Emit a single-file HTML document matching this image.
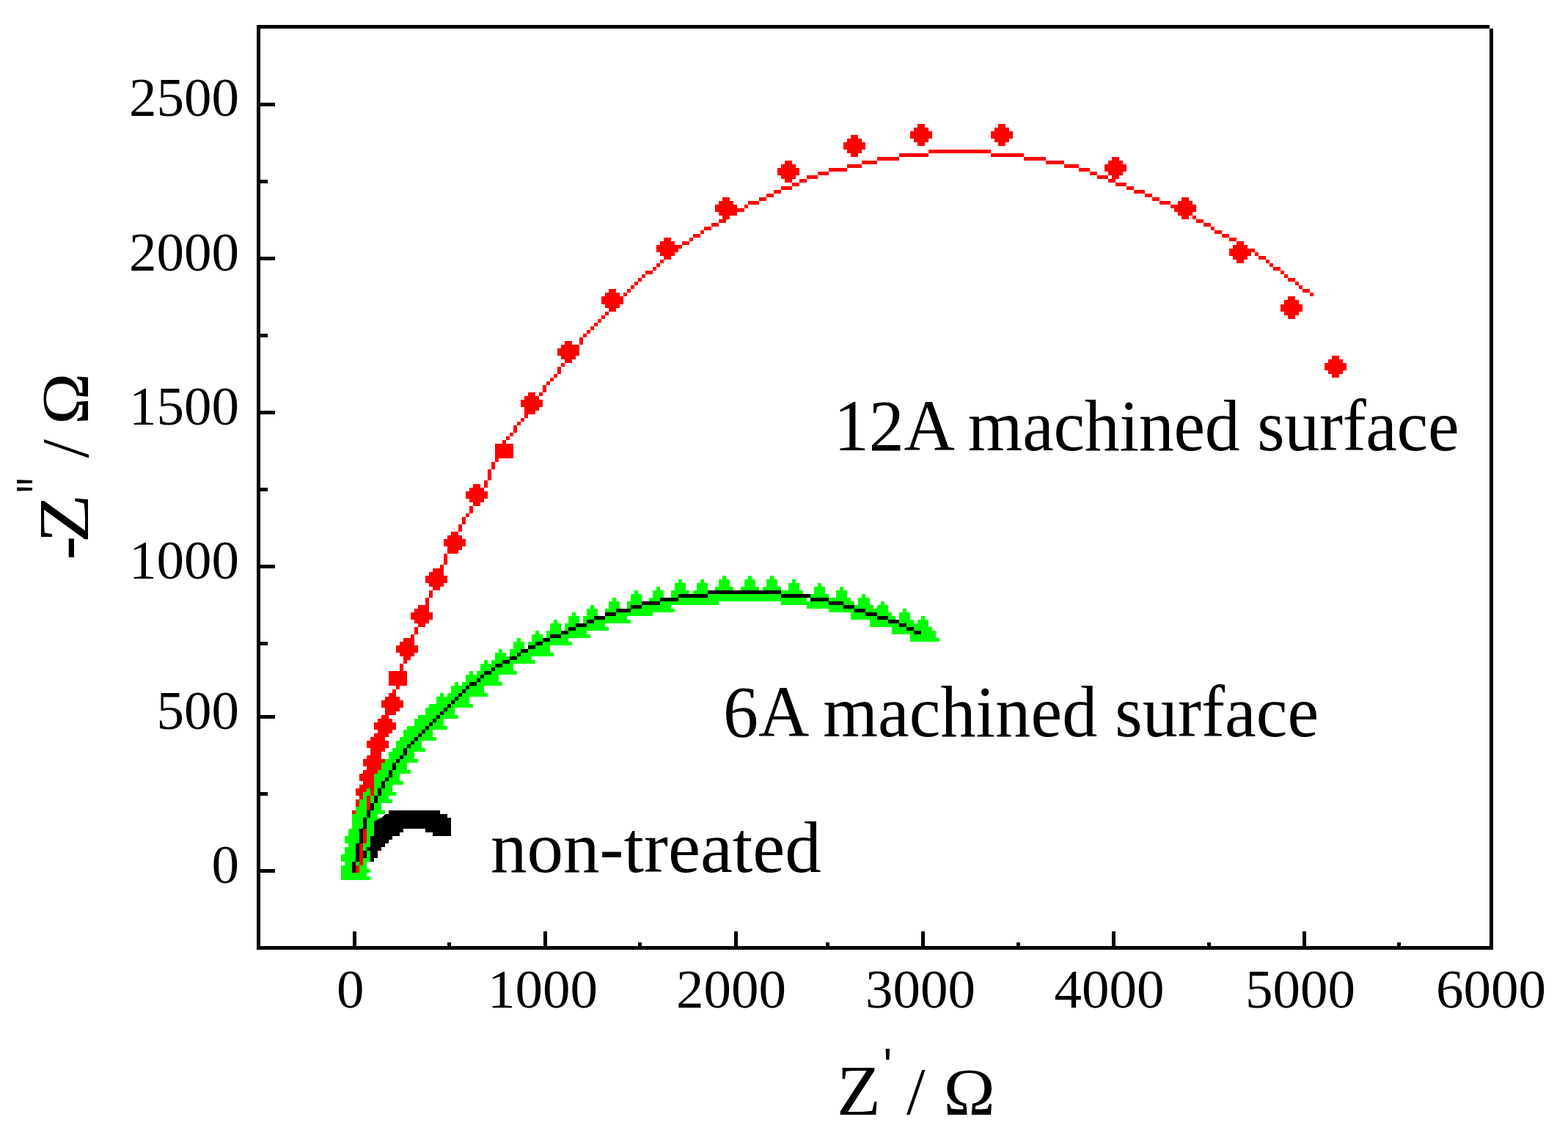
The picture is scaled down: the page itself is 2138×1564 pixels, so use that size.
<!DOCTYPE html>
<html><head><meta charset="utf-8"><title>Nyquist plot: -Z'' vs Z'</title>
<style>html,body{margin:0;padding:0;background:#fff;overflow:hidden;}svg{display:block;}
text{font-family:"Liberation Serif","Times New Roman",serif;fill:#000;}</style></head>
<body><svg width="2138" height="1564" viewBox="0 0 2138 1564">
<rect x="0" y="0" width="2138" height="1564" fill="#fff"/>
<g fill="#f00" shape-rendering="crispEdges">
<polygon points="1816.0,485.0 1826.0,485.0 1826.0,490.0 1831.0,490.0 1831.0,495.0 1836.0,495.0 1836.0,505.0 1831.0,505.0 1831.0,510.0 1826.0,510.0 1826.0,515.0 1816.0,515.0 1816.0,510.0 1811.0,510.0 1811.0,505.0 1806.0,505.0 1806.0,495.0 1811.0,495.0 1811.0,490.0 1816.0,490.0"/>
<polygon points="1756.0,404.0 1766.0,404.0 1766.0,409.0 1771.0,409.0 1771.0,415.0 1776.0,415.0 1776.0,425.0 1771.0,425.0 1771.0,430.0 1766.0,430.0 1766.0,435.0 1756.0,435.0 1756.0,430.0 1751.0,430.0 1751.0,425.0 1746.0,425.0 1746.0,415.0 1751.0,415.0 1751.0,409.0 1756.0,409.0"/>
<polygon points="1686.0,329.0 1696.0,329.0 1696.0,334.0 1701.0,334.0 1701.0,339.0 1706.0,339.0 1706.0,349.0 1701.0,349.0 1701.0,354.0 1696.0,354.0 1696.0,359.0 1686.0,359.0 1686.0,354.0 1681.0,354.0 1681.0,349.0 1676.0,349.0 1676.0,339.0 1681.0,339.0 1681.0,334.0 1686.0,334.0"/>
<polygon points="1611.0,269.0 1621.0,269.0 1621.0,274.0 1626.0,274.0 1626.0,279.0 1631.0,279.0 1631.0,289.0 1626.0,289.0 1626.0,294.0 1621.0,294.0 1621.0,299.0 1611.0,299.0 1611.0,294.0 1606.0,294.0 1606.0,289.0 1601.0,289.0 1601.0,279.0 1606.0,279.0 1606.0,274.0 1611.0,274.0"/>
<polygon points="1516.0,214.0 1526.0,214.0 1526.0,219.0 1531.0,219.0 1531.0,224.0 1536.0,224.0 1536.0,234.0 1531.0,234.0 1531.0,239.0 1526.0,239.0 1526.0,244.0 1516.0,244.0 1516.0,239.0 1511.0,239.0 1511.0,234.0 1506.0,234.0 1506.0,224.0 1511.0,224.0 1511.0,219.0 1516.0,219.0"/>
<polygon points="1361.0,169.0 1371.0,169.0 1371.0,174.0 1376.0,174.0 1376.0,179.0 1381.0,179.0 1381.0,189.0 1376.0,189.0 1376.0,194.0 1371.0,194.0 1371.0,199.0 1361.0,199.0 1361.0,194.0 1356.0,194.0 1356.0,189.0 1351.0,189.0 1351.0,179.0 1356.0,179.0 1356.0,174.0 1361.0,174.0"/>
<polygon points="1251.0,169.0 1261.0,169.0 1261.0,174.0 1266.0,174.0 1266.0,179.0 1271.0,179.0 1271.0,189.0 1266.0,189.0 1266.0,194.0 1261.0,194.0 1261.0,199.0 1251.0,199.0 1251.0,194.0 1246.0,194.0 1246.0,189.0 1241.0,189.0 1241.0,179.0 1246.0,179.0 1246.0,174.0 1251.0,174.0"/>
<polygon points="1160.0,184.0 1170.0,184.0 1170.0,189.0 1175.0,189.0 1175.0,194.0 1180.0,194.0 1180.0,204.0 1175.0,204.0 1175.0,209.0 1170.0,209.0 1170.0,214.0 1160.0,214.0 1160.0,209.0 1155.0,209.0 1155.0,204.0 1150.0,204.0 1150.0,194.0 1155.0,194.0 1155.0,189.0 1160.0,189.0"/>
<polygon points="1070.0,219.0 1080.0,219.0 1080.0,224.0 1085.0,224.0 1085.0,229.0 1090.0,229.0 1090.0,239.0 1085.0,239.0 1085.0,244.0 1080.0,244.0 1080.0,249.0 1070.0,249.0 1070.0,244.0 1065.0,244.0 1065.0,239.0 1060.0,239.0 1060.0,229.0 1065.0,229.0 1065.0,224.0 1070.0,224.0"/>
<polygon points="985.0,269.0 995.0,269.0 995.0,274.0 1000.0,274.0 1000.0,279.0 1005.0,279.0 1005.0,289.0 1000.0,289.0 1000.0,294.0 995.0,294.0 995.0,299.0 985.0,299.0 985.0,294.0 980.0,294.0 980.0,289.0 975.0,289.0 975.0,279.0 980.0,279.0 980.0,274.0 985.0,274.0"/>
<polygon points="905.0,324.0 915.0,324.0 915.0,329.0 920.0,329.0 920.0,334.0 925.0,334.0 925.0,344.0 920.0,344.0 920.0,349.0 915.0,349.0 915.0,354.0 905.0,354.0 905.0,349.0 900.0,349.0 900.0,344.0 895.0,344.0 895.0,334.0 900.0,334.0 900.0,329.0 905.0,329.0"/>
<polygon points="830.0,394.0 840.0,394.0 840.0,399.0 845.0,399.0 845.0,404.0 850.0,404.0 850.0,415.0 845.0,415.0 845.0,420.0 840.0,420.0 840.0,425.0 830.0,425.0 830.0,420.0 825.0,420.0 825.0,415.0 820.0,415.0 820.0,404.0 825.0,404.0 825.0,399.0 830.0,399.0"/>
<polygon points="770.0,465.0 780.0,465.0 780.0,470.0 785.0,470.0 785.0,475.0 790.0,475.0 790.0,485.0 785.0,485.0 785.0,490.0 780.0,490.0 780.0,495.0 770.0,495.0 770.0,490.0 765.0,490.0 765.0,485.0 760.0,485.0 760.0,475.0 765.0,475.0 765.0,470.0 770.0,470.0"/>
<polygon points="720.0,535.0 730.0,535.0 730.0,540.0 735.0,540.0 735.0,545.0 740.0,545.0 740.0,555.0 735.0,555.0 735.0,560.0 730.0,560.0 730.0,565.0 720.0,565.0 720.0,560.0 715.0,560.0 715.0,555.0 710.0,555.0 710.0,545.0 715.0,545.0 715.0,540.0 720.0,540.0"/>
<rect x="675" y="605" width="25" height="20"/>
<polygon points="645.0,660.0 655.0,660.0 655.0,665.0 660.0,665.0 660.0,670.0 665.0,670.0 665.0,680.0 660.0,680.0 660.0,685.0 655.0,685.0 655.0,690.0 645.0,690.0 645.0,685.0 640.0,685.0 640.0,680.0 635.0,680.0 635.0,670.0 640.0,670.0 640.0,665.0 645.0,665.0"/>
<polygon points="615.0,725.0 625.0,725.0 625.0,730.0 630.0,730.0 630.0,735.0 635.0,735.0 635.0,745.0 630.0,745.0 630.0,750.0 625.0,750.0 625.0,755.0 615.0,755.0 615.0,750.0 610.0,750.0 610.0,745.0 605.0,745.0 605.0,735.0 610.0,735.0 610.0,730.0 615.0,730.0"/>
<polygon points="590.0,775.0 600.0,775.0 600.0,780.0 605.0,780.0 605.0,785.0 610.0,785.0 610.0,795.0 605.0,795.0 605.0,800.0 600.0,800.0 600.0,805.0 590.0,805.0 590.0,800.0 585.0,800.0 585.0,795.0 580.0,795.0 580.0,785.0 585.0,785.0 585.0,780.0 590.0,780.0"/>
<polygon points="570.0,825.0 580.0,825.0 580.0,830.0 585.0,830.0 585.0,835.0 590.0,835.0 590.0,845.0 585.0,845.0 585.0,850.0 580.0,850.0 580.0,855.0 570.0,855.0 570.0,850.0 565.0,850.0 565.0,845.0 560.0,845.0 560.0,835.0 565.0,835.0 565.0,830.0 570.0,830.0"/>
<polygon points="550.0,870.0 560.0,870.0 560.0,875.0 565.0,875.0 565.0,880.0 570.0,880.0 570.0,890.0 565.0,890.0 565.0,895.0 560.0,895.0 560.0,900.0 550.0,900.0 550.0,895.0 545.0,895.0 545.0,890.0 540.0,890.0 540.0,880.0 545.0,880.0 545.0,875.0 550.0,875.0"/>
<rect x="530" y="915" width="25" height="20"/>
<polygon points="530.0,945.0 540.0,945.0 540.0,950.0 545.0,950.0 545.0,955.0 550.0,955.0 550.0,965.0 545.0,965.0 545.0,970.0 540.0,970.0 540.0,975.0 530.0,975.0 530.0,970.0 525.0,970.0 525.0,965.0 520.0,965.0 520.0,955.0 525.0,955.0 525.0,950.0 530.0,950.0"/>
<polygon points="520.0,975.0 530.0,975.0 530.0,980.0 535.0,980.0 535.0,985.0 540.0,985.0 540.0,995.0 535.0,995.0 535.0,1000.0 530.0,1000.0 530.0,1005.0 520.0,1005.0 520.0,1000.0 515.0,1000.0 515.0,995.0 510.0,995.0 510.0,985.0 515.0,985.0 515.0,980.0 520.0,980.0"/>
<polygon points="510.0,1000.0 520.0,1000.0 520.0,1005.0 525.0,1005.0 525.0,1010.0 530.0,1010.0 530.0,1020.0 525.0,1020.0 525.0,1025.0 520.0,1025.0 520.0,1030.0 510.0,1030.0 510.0,1025.0 505.0,1025.0 505.0,1020.0 500.0,1020.0 500.0,1010.0 505.0,1010.0 505.0,1005.0 510.0,1005.0"/>
<polygon points="505.0,1025.0 515.0,1025.0 515.0,1030.0 520.0,1030.0 520.0,1035.0 525.0,1035.0 525.0,1045.0 520.0,1045.0 520.0,1050.0 515.0,1050.0 515.0,1055.0 505.0,1055.0 505.0,1050.0 500.0,1050.0 500.0,1045.0 495.0,1045.0 495.0,1035.0 500.0,1035.0 500.0,1030.0 505.0,1030.0"/>
<polygon points="500.0,1045.0 510.0,1045.0 510.0,1050.0 515.0,1050.0 515.0,1055.0 520.0,1055.0 520.0,1065.0 515.0,1065.0 515.0,1070.0 510.0,1070.0 510.0,1075.0 500.0,1075.0 500.0,1070.0 495.0,1070.0 495.0,1065.0 490.0,1065.0 490.0,1055.0 495.0,1055.0 495.0,1050.0 500.0,1050.0"/>
<polygon points="495.0,1065.0 505.0,1065.0 505.0,1070.0 510.0,1070.0 510.0,1075.0 515.0,1075.0 515.0,1085.0 510.0,1085.0 510.0,1090.0 505.0,1090.0 505.0,1095.0 495.0,1095.0 495.0,1090.0 490.0,1090.0 490.0,1085.0 485.0,1085.0 485.0,1075.0 490.0,1075.0 490.0,1070.0 495.0,1070.0"/>
<polygon points="495.0,1080.0 505.0,1080.0 505.0,1085.0 510.0,1085.0 510.0,1090.0 515.0,1090.0 515.0,1100.0 510.0,1100.0 510.0,1105.0 505.0,1105.0 505.0,1110.0 495.0,1110.0 495.0,1105.0 490.0,1105.0 490.0,1100.0 485.0,1100.0 485.0,1090.0 490.0,1090.0 490.0,1085.0 495.0,1085.0"/>
<polygon points="490.0,1095.0 500.0,1095.0 500.0,1100.0 505.0,1100.0 505.0,1105.0 510.0,1105.0 510.0,1115.0 505.0,1115.0 505.0,1120.0 500.0,1120.0 500.0,1125.0 490.0,1125.0 490.0,1120.0 485.0,1120.0 485.0,1115.0 480.0,1115.0 480.0,1105.0 485.0,1105.0 485.0,1100.0 490.0,1100.0"/>
</g>
<g fill="#0f0" shape-rendering="crispEdges">
<polygon points="480.0,1165.0 485.0,1165.0 485.0,1170.0 490.0,1170.0 490.0,1180.0 495.0,1180.0 495.0,1185.0 500.0,1185.0 500.0,1195.0 505.0,1195.0 505.0,1200.0 465.0,1200.0 465.0,1190.0 470.0,1190.0 470.0,1180.0 475.0,1180.0 475.0,1170.0 480.0,1170.0"/>
<polygon points="480.0,1155.0 485.0,1155.0 485.0,1160.0 490.0,1160.0 490.0,1170.0 495.0,1170.0 495.0,1175.0 500.0,1175.0 500.0,1185.0 505.0,1185.0 505.0,1190.0 465.0,1190.0 465.0,1180.0 470.0,1180.0 470.0,1170.0 475.0,1170.0 475.0,1160.0 480.0,1160.0"/>
<polygon points="480.0,1140.0 485.0,1140.0 485.0,1145.0 490.0,1145.0 490.0,1155.0 495.0,1155.0 495.0,1160.0 500.0,1160.0 500.0,1170.0 505.0,1170.0 505.0,1175.0 465.0,1175.0 465.0,1165.0 470.0,1165.0 470.0,1155.0 475.0,1155.0 475.0,1145.0 480.0,1145.0"/>
<polygon points="485.0,1130.0 490.0,1130.0 490.0,1135.0 495.0,1135.0 495.0,1145.0 500.0,1145.0 500.0,1150.0 505.0,1150.0 505.0,1160.0 510.0,1160.0 510.0,1165.0 470.0,1165.0 470.0,1155.0 475.0,1155.0 475.0,1145.0 480.0,1145.0 480.0,1135.0 485.0,1135.0"/>
<polygon points="485.0,1115.0 490.0,1115.0 490.0,1120.0 495.0,1120.0 495.0,1130.0 500.0,1130.0 500.0,1135.0 505.0,1135.0 505.0,1145.0 510.0,1145.0 510.0,1150.0 470.0,1150.0 470.0,1140.0 475.0,1140.0 475.0,1130.0 480.0,1130.0 480.0,1120.0 485.0,1120.0"/>
<polygon points="490.0,1110.0 495.0,1110.0 495.0,1115.0 500.0,1115.0 500.0,1125.0 505.0,1125.0 505.0,1130.0 510.0,1130.0 510.0,1140.0 515.0,1140.0 515.0,1145.0 475.0,1145.0 475.0,1135.0 480.0,1135.0 480.0,1125.0 485.0,1125.0 485.0,1115.0 490.0,1115.0"/>
<polygon points="495.0,1100.0 500.0,1100.0 500.0,1105.0 505.0,1105.0 505.0,1115.0 510.0,1115.0 510.0,1120.0 515.0,1120.0 515.0,1130.0 520.0,1130.0 520.0,1135.0 480.0,1135.0 480.0,1125.0 485.0,1125.0 485.0,1115.0 490.0,1115.0 490.0,1105.0 495.0,1105.0"/>
<polygon points="495.0,1085.0 500.0,1085.0 500.0,1090.0 505.0,1090.0 505.0,1100.0 510.0,1100.0 510.0,1105.0 515.0,1105.0 515.0,1115.0 520.0,1115.0 520.0,1120.0 480.0,1120.0 480.0,1110.0 485.0,1110.0 485.0,1100.0 490.0,1100.0 490.0,1090.0 495.0,1090.0"/>
<polygon points="500.0,1075.0 505.0,1075.0 505.0,1080.0 510.0,1080.0 510.0,1090.0 515.0,1090.0 515.0,1095.0 520.0,1095.0 520.0,1105.0 525.0,1105.0 525.0,1110.0 485.0,1110.0 485.0,1100.0 490.0,1100.0 490.0,1090.0 495.0,1090.0 495.0,1080.0 500.0,1080.0"/>
<polygon points="510.0,1060.0 515.0,1060.0 515.0,1065.0 520.0,1065.0 520.0,1075.0 525.0,1075.0 525.0,1080.0 530.0,1080.0 530.0,1090.0 535.0,1090.0 535.0,1095.0 495.0,1095.0 495.0,1085.0 500.0,1085.0 500.0,1075.0 505.0,1075.0 505.0,1065.0 510.0,1065.0"/>
<polygon points="515.0,1050.0 520.0,1050.0 520.0,1055.0 525.0,1055.0 525.0,1065.0 530.0,1065.0 530.0,1070.0 535.0,1070.0 535.0,1080.0 540.0,1080.0 540.0,1085.0 500.0,1085.0 500.0,1075.0 505.0,1075.0 505.0,1065.0 510.0,1065.0 510.0,1055.0 515.0,1055.0"/>
<polygon points="525.0,1035.0 530.0,1035.0 530.0,1040.0 535.0,1040.0 535.0,1050.0 540.0,1050.0 540.0,1055.0 545.0,1055.0 545.0,1065.0 550.0,1065.0 550.0,1070.0 510.0,1070.0 510.0,1060.0 515.0,1060.0 515.0,1050.0 520.0,1050.0 520.0,1040.0 525.0,1040.0"/>
<polygon points="535.0,1020.0 540.0,1020.0 540.0,1025.0 545.0,1025.0 545.0,1035.0 550.0,1035.0 550.0,1040.0 555.0,1040.0 555.0,1050.0 560.0,1050.0 560.0,1055.0 520.0,1055.0 520.0,1045.0 525.0,1045.0 525.0,1035.0 530.0,1035.0 530.0,1025.0 535.0,1025.0"/>
<polygon points="545.0,1005.0 550.0,1005.0 550.0,1010.0 555.0,1010.0 555.0,1020.0 560.0,1020.0 560.0,1025.0 565.0,1025.0 565.0,1035.0 570.0,1035.0 570.0,1040.0 530.0,1040.0 530.0,1030.0 535.0,1030.0 535.0,1020.0 540.0,1020.0 540.0,1010.0 545.0,1010.0"/>
<polygon points="555.0,990.0 560.0,990.0 560.0,995.0 565.0,995.0 565.0,1005.0 570.0,1005.0 570.0,1010.0 575.0,1010.0 575.0,1020.0 580.0,1020.0 580.0,1025.0 540.0,1025.0 540.0,1015.0 545.0,1015.0 545.0,1005.0 550.0,1005.0 550.0,995.0 555.0,995.0"/>
<polygon points="570.0,975.0 575.0,975.0 575.0,980.0 580.0,980.0 580.0,990.0 585.0,990.0 585.0,995.0 590.0,995.0 590.0,1005.0 595.0,1005.0 595.0,1010.0 555.0,1010.0 555.0,1000.0 560.0,1000.0 560.0,990.0 565.0,990.0 565.0,980.0 570.0,980.0"/>
<polygon points="585.0,960.0 590.0,960.0 590.0,965.0 595.0,965.0 595.0,975.0 600.0,975.0 600.0,980.0 605.0,980.0 605.0,990.0 610.0,990.0 610.0,995.0 570.0,995.0 570.0,985.0 575.0,985.0 575.0,975.0 580.0,975.0 580.0,965.0 585.0,965.0"/>
<polygon points="600.0,945.0 605.0,945.0 605.0,950.0 610.0,950.0 610.0,960.0 615.0,960.0 615.0,965.0 620.0,965.0 620.0,975.0 625.0,975.0 625.0,980.0 585.0,980.0 585.0,970.0 590.0,970.0 590.0,960.0 595.0,960.0 595.0,950.0 600.0,950.0"/>
<polygon points="620.0,930.0 625.0,930.0 625.0,935.0 630.0,935.0 630.0,945.0 635.0,945.0 635.0,950.0 640.0,950.0 640.0,960.0 645.0,960.0 645.0,965.0 605.0,965.0 605.0,955.0 610.0,955.0 610.0,945.0 615.0,945.0 615.0,935.0 620.0,935.0"/>
<polygon points="640.0,915.0 645.0,915.0 645.0,920.0 650.0,920.0 650.0,930.0 655.0,930.0 655.0,935.0 660.0,935.0 660.0,945.0 665.0,945.0 665.0,950.0 625.0,950.0 625.0,940.0 630.0,940.0 630.0,930.0 635.0,930.0 635.0,920.0 640.0,920.0"/>
<polygon points="660.0,900.0 665.0,900.0 665.0,905.0 670.0,905.0 670.0,915.0 675.0,915.0 675.0,920.0 680.0,920.0 680.0,930.0 685.0,930.0 685.0,935.0 645.0,935.0 645.0,925.0 650.0,925.0 650.0,915.0 655.0,915.0 655.0,905.0 660.0,905.0"/>
<polygon points="680.0,885.0 685.0,885.0 685.0,890.0 690.0,890.0 690.0,900.0 695.0,900.0 695.0,905.0 700.0,905.0 700.0,915.0 705.0,915.0 705.0,920.0 665.0,920.0 665.0,910.0 670.0,910.0 670.0,900.0 675.0,900.0 675.0,890.0 680.0,890.0"/>
<polygon points="705.0,870.0 710.0,870.0 710.0,875.0 715.0,875.0 715.0,885.0 720.0,885.0 720.0,890.0 725.0,890.0 725.0,900.0 730.0,900.0 730.0,905.0 690.0,905.0 690.0,895.0 695.0,895.0 695.0,885.0 700.0,885.0 700.0,875.0 705.0,875.0"/>
<polygon points="730.0,860.0 735.0,860.0 735.0,865.0 740.0,865.0 740.0,875.0 745.0,875.0 745.0,880.0 750.0,880.0 750.0,890.0 755.0,890.0 755.0,895.0 715.0,895.0 715.0,885.0 720.0,885.0 720.0,875.0 725.0,875.0 725.0,865.0 730.0,865.0"/>
<polygon points="755.0,845.0 760.0,845.0 760.0,850.0 765.0,850.0 765.0,860.0 770.0,860.0 770.0,865.0 775.0,865.0 775.0,875.0 780.0,875.0 780.0,880.0 740.0,880.0 740.0,870.0 745.0,870.0 745.0,860.0 750.0,860.0 750.0,850.0 755.0,850.0"/>
<polygon points="780.0,835.0 785.0,835.0 785.0,840.0 790.0,840.0 790.0,850.0 795.0,850.0 795.0,855.0 800.0,855.0 800.0,865.0 805.0,865.0 805.0,870.0 765.0,870.0 765.0,860.0 770.0,860.0 770.0,850.0 775.0,850.0 775.0,840.0 780.0,840.0"/>
<polygon points="805.0,825.0 810.0,825.0 810.0,830.0 815.0,830.0 815.0,840.0 820.0,840.0 820.0,845.0 825.0,845.0 825.0,855.0 830.0,855.0 830.0,860.0 790.0,860.0 790.0,850.0 795.0,850.0 795.0,840.0 800.0,840.0 800.0,830.0 805.0,830.0"/>
<polygon points="835.0,815.0 840.0,815.0 840.0,820.0 845.0,820.0 845.0,830.0 850.0,830.0 850.0,835.0 855.0,835.0 855.0,845.0 860.0,845.0 860.0,850.0 820.0,850.0 820.0,840.0 825.0,840.0 825.0,830.0 830.0,830.0 830.0,820.0 835.0,820.0"/>
<polygon points="865.0,805.0 870.0,805.0 870.0,810.0 875.0,810.0 875.0,820.0 880.0,820.0 880.0,825.0 885.0,825.0 885.0,835.0 890.0,835.0 890.0,840.0 850.0,840.0 850.0,830.0 855.0,830.0 855.0,820.0 860.0,820.0 860.0,810.0 865.0,810.0"/>
<polygon points="895.0,800.0 900.0,800.0 900.0,805.0 905.0,805.0 905.0,815.0 910.0,815.0 910.0,820.0 915.0,820.0 915.0,830.0 920.0,830.0 920.0,835.0 880.0,835.0 880.0,825.0 885.0,825.0 885.0,815.0 890.0,815.0 890.0,805.0 895.0,805.0"/>
<polygon points="925.0,790.0 930.0,790.0 930.0,795.0 935.0,795.0 935.0,805.0 940.0,805.0 940.0,810.0 945.0,810.0 945.0,820.0 950.0,820.0 950.0,825.0 910.0,825.0 910.0,815.0 915.0,815.0 915.0,805.0 920.0,805.0 920.0,795.0 925.0,795.0"/>
<polygon points="955.0,790.0 960.0,790.0 960.0,795.0 965.0,795.0 965.0,805.0 970.0,805.0 970.0,810.0 975.0,810.0 975.0,820.0 980.0,820.0 980.0,825.0 940.0,825.0 940.0,815.0 945.0,815.0 945.0,805.0 950.0,805.0 950.0,795.0 955.0,795.0"/>
<polygon points="985.0,785.0 990.0,785.0 990.0,790.0 995.0,790.0 995.0,800.0 1000.0,800.0 1000.0,805.0 1005.0,805.0 1005.0,815.0 1010.0,815.0 1010.0,820.0 970.0,820.0 970.0,810.0 975.0,810.0 975.0,800.0 980.0,800.0 980.0,790.0 985.0,790.0"/>
<polygon points="1020.0,785.0 1025.0,785.0 1025.0,790.0 1030.0,790.0 1030.0,800.0 1035.0,800.0 1035.0,805.0 1040.0,805.0 1040.0,815.0 1045.0,815.0 1045.0,820.0 1005.0,820.0 1005.0,810.0 1010.0,810.0 1010.0,800.0 1015.0,800.0 1015.0,790.0 1020.0,790.0"/>
<polygon points="1050.0,785.0 1055.0,785.0 1055.0,790.0 1060.0,790.0 1060.0,800.0 1065.0,800.0 1065.0,805.0 1070.0,805.0 1070.0,815.0 1075.0,815.0 1075.0,820.0 1035.0,820.0 1035.0,810.0 1040.0,810.0 1040.0,800.0 1045.0,800.0 1045.0,790.0 1050.0,790.0"/>
<polygon points="1080.0,790.0 1085.0,790.0 1085.0,795.0 1090.0,795.0 1090.0,805.0 1095.0,805.0 1095.0,810.0 1100.0,810.0 1100.0,820.0 1105.0,820.0 1105.0,825.0 1065.0,825.0 1065.0,815.0 1070.0,815.0 1070.0,805.0 1075.0,805.0 1075.0,795.0 1080.0,795.0"/>
<polygon points="1115.0,795.0 1120.0,795.0 1120.0,800.0 1125.0,800.0 1125.0,810.0 1130.0,810.0 1130.0,815.0 1135.0,815.0 1135.0,825.0 1140.0,825.0 1140.0,830.0 1100.0,830.0 1100.0,820.0 1105.0,820.0 1105.0,810.0 1110.0,810.0 1110.0,800.0 1115.0,800.0"/>
<polygon points="1145.0,800.0 1150.0,800.0 1150.0,805.0 1155.0,805.0 1155.0,815.0 1160.0,815.0 1160.0,820.0 1165.0,820.0 1165.0,830.0 1170.0,830.0 1170.0,835.0 1130.0,835.0 1130.0,825.0 1135.0,825.0 1135.0,815.0 1140.0,815.0 1140.0,805.0 1145.0,805.0"/>
<polygon points="1175.0,810.0 1180.0,810.0 1180.0,815.0 1186.0,815.0 1186.0,825.0 1191.0,825.0 1191.0,830.0 1196.0,830.0 1196.0,840.0 1201.0,840.0 1201.0,845.0 1160.0,845.0 1160.0,835.0 1165.0,835.0 1165.0,825.0 1170.0,825.0 1170.0,815.0 1175.0,815.0"/>
<polygon points="1201.0,820.0 1206.0,820.0 1206.0,825.0 1211.0,825.0 1211.0,835.0 1216.0,835.0 1216.0,840.0 1221.0,840.0 1221.0,850.0 1226.0,850.0 1226.0,855.0 1186.0,855.0 1186.0,845.0 1191.0,845.0 1191.0,835.0 1196.0,835.0 1196.0,825.0 1201.0,825.0"/>
<polygon points="1231.0,830.0 1236.0,830.0 1236.0,835.0 1241.0,835.0 1241.0,845.0 1246.0,845.0 1246.0,850.0 1251.0,850.0 1251.0,860.0 1256.0,860.0 1256.0,865.0 1216.0,865.0 1216.0,855.0 1221.0,855.0 1221.0,845.0 1226.0,845.0 1226.0,835.0 1231.0,835.0"/>
<polygon points="1256.0,840.0 1261.0,840.0 1261.0,845.0 1266.0,845.0 1266.0,855.0 1271.0,855.0 1271.0,860.0 1276.0,860.0 1276.0,870.0 1281.0,870.0 1281.0,875.0 1241.0,875.0 1241.0,865.0 1246.0,865.0 1246.0,855.0 1251.0,855.0 1251.0,845.0 1256.0,845.0"/>
</g>
<rect x="500" y="1160" width="5" height="15" fill="#0f0" shape-rendering="crispEdges"/>
<polygon points="530.0,1105.0 600.0,1105.0 600.0,1110.0 610.0,1110.0 610.0,1115.0 615.0,1115.0 615.0,1140.0 590.0,1140.0 590.0,1135.0 580.0,1135.0 580.0,1130.0 550.0,1130.0 550.0,1135.0 545.0,1135.0 545.0,1140.0 535.0,1140.0 535.0,1145.0 530.0,1145.0 530.0,1150.0 525.0,1150.0 525.0,1155.0 520.0,1155.0 520.0,1160.0 515.0,1160.0 515.0,1170.0 510.0,1170.0 510.0,1175.0 505.0,1175.0 505.0,1140.0 510.0,1140.0 510.0,1120.0 520.0,1115.0 525.0,1110.0 530.0,1110.0" fill="#000" shape-rendering="crispEdges"/>
<rect x="500" y="1155" width="5" height="5" fill="#000" shape-rendering="crispEdges"/>
<rect x="495" y="1160" width="5" height="10" fill="#000" shape-rendering="crispEdges"/>
<g fill="#f00" shape-rendering="crispEdges">
<rect x="880" y="369" width="10" height="5"/><rect x="1065" y="254" width="15" height="5"/><rect x="1536" y="254" width="10" height="5"/><rect x="1175" y="219" width="21" height="5"/><rect x="1426" y="219" width="25" height="5"/><rect x="1226" y="209" width="40" height="5"/><rect x="1351" y="209" width="45" height="5"/><rect x="1045" y="264" width="10" height="5"/><rect x="1561" y="264" width="10" height="5"/><rect x="1196" y="214" width="30" height="5"/><rect x="1396" y="214" width="30" height="5"/><rect x="1115" y="234" width="15" height="5"/><rect x="1486" y="234" width="10" height="5"/><rect x="1020" y="274" width="15" height="5"/><rect x="1581" y="274" width="15" height="5"/><rect x="905" y="349" width="10" height="5"/><rect x="1716" y="349" width="10" height="5"/><rect x="980" y="299" width="10" height="5"/><rect x="1631" y="299" width="10" height="5"/><rect x="1155" y="224" width="20" height="5"/><rect x="1451" y="224" width="20" height="5"/><rect x="1266" y="204" width="85" height="5"/><rect x="1776" y="394" width="10" height="5"/><rect x="1005" y="284" width="10" height="5"/><rect x="1606" y="284" width="10" height="5"/><rect x="960" y="309" width="10" height="5"/><rect x="1691" y="334" width="10" height="5"/><rect x="1100" y="239" width="15" height="5"/><rect x="1496" y="239" width="15" height="5"/><rect x="930" y="329" width="10" height="5"/><rect x="1656" y="314" width="10" height="5"/><rect x="1756" y="379" width="10" height="5"/><rect x="1130" y="229" width="25" height="5"/><rect x="1471" y="229" width="15" height="5"/><rect x="1090" y="244" width="10" height="5"/><rect x="1511" y="244" width="10" height="5"/><rect x="945" y="319" width="10" height="5"/><rect x="1666" y="319" width="10" height="5"/><rect x="1701" y="339" width="10" height="5"/><rect x="1676" y="324" width="10" height="5"/><rect x="1055" y="259" width="10" height="5"/><rect x="1546" y="259" width="15" height="5"/><rect x="1035" y="269" width="10" height="5"/><rect x="1571" y="269" width="10" height="5"/><rect x="1080" y="249" width="10" height="5"/><rect x="1521" y="249" width="15" height="5"/><rect x="1596" y="279" width="10" height="5"/><rect x="1736" y="364" width="10" height="5"/><rect x="970" y="304" width="10" height="5"/><rect x="1641" y="304" width="10" height="5"/><rect x="995" y="289" width="10" height="5"/><rect x="1616" y="289" width="10" height="5"/><rect x="1746" y="369" width="5" height="5"/><rect x="690" y="595" width="5" height="5"/><rect x="875" y="374" width="5" height="5"/><rect x="1751" y="374" width="5" height="5"/><rect x="490" y="1150" width="5" height="30"/><rect x="670" y="630" width="5" height="10"/><rect x="790" y="460" width="5" height="10"/><rect x="505" y="1055" width="5" height="30"/><rect x="575" y="830" width="5" height="10"/><rect x="590" y="795" width="5" height="10"/><rect x="570" y="840" width="5" height="15"/><rect x="615" y="735" width="5" height="10"/><rect x="850" y="399" width="5" height="5"/><rect x="1786" y="399" width="5" height="5"/><rect x="525" y="970" width="5" height="20"/><rect x="510" y="1035" width="5" height="20"/><rect x="900" y="354" width="5" height="5"/><rect x="1726" y="354" width="5" height="5"/><rect x="500" y="1085" width="5" height="30"/><rect x="730" y="540" width="5" height="5"/><rect x="665" y="640" width="5" height="15"/><rect x="530" y="955" width="5" height="15"/><rect x="855" y="394" width="5" height="5"/><rect x="645" y="680" width="5" height="10"/><rect x="1651" y="309" width="5" height="5"/><rect x="925" y="334" width="5" height="5"/><rect x="585" y="805" width="5" height="10"/><rect x="825" y="425" width="5" height="5"/><rect x="1686" y="329" width="5" height="5"/><rect x="955" y="314" width="5" height="5"/><rect x="870" y="379" width="5" height="5"/><rect x="920" y="339" width="5" height="5"/><rect x="770" y="490" width="5" height="5"/><rect x="785" y="470" width="5" height="5"/><rect x="710" y="570" width="5" height="5"/><rect x="940" y="324" width="5" height="5"/><rect x="685" y="600" width="5" height="10"/><rect x="700" y="580" width="5" height="10"/><rect x="565" y="855" width="5" height="10"/><rect x="745" y="520" width="5" height="5"/><rect x="760" y="500" width="5" height="10"/><rect x="520" y="990" width="5" height="20"/><rect x="860" y="389" width="5" height="5"/><rect x="1771" y="389" width="5" height="5"/><rect x="605" y="755" width="5" height="15"/><rect x="800" y="450" width="5" height="5"/><rect x="990" y="294" width="5" height="5"/><rect x="1626" y="294" width="5" height="5"/><rect x="660" y="655" width="5" height="10"/><rect x="620" y="725" width="5" height="10"/><rect x="495" y="1115" width="5" height="35"/><rect x="545" y="905" width="5" height="15"/><rect x="915" y="344" width="5" height="5"/><rect x="1711" y="344" width="5" height="5"/><rect x="1015" y="279" width="5" height="5"/><rect x="890" y="364" width="5" height="5"/><rect x="580" y="815" width="5" height="15"/><rect x="640" y="690" width="5" height="10"/><rect x="540" y="920" width="5" height="20"/><rect x="560" y="865" width="5" height="15"/><rect x="835" y="415" width="5" height="5"/><rect x="680" y="610" width="5" height="10"/><rect x="740" y="525" width="5" height="10"/><rect x="515" y="1010" width="5" height="25"/><rect x="535" y="940" width="5" height="15"/><rect x="820" y="430" width="5" height="5"/><rect x="715" y="560" width="5" height="10"/><rect x="755" y="510" width="5" height="5"/><rect x="655" y="665" width="5" height="5"/><rect x="895" y="359" width="5" height="5"/><rect x="1731" y="359" width="5" height="5"/><rect x="555" y="880" width="5" height="15"/><rect x="635" y="700" width="5" height="5"/><rect x="795" y="455" width="5" height="5"/><rect x="695" y="590" width="5" height="5"/><rect x="595" y="780" width="5" height="15"/><rect x="610" y="745" width="5" height="10"/><rect x="675" y="620" width="5" height="10"/><rect x="810" y="440" width="5" height="5"/><rect x="550" y="895" width="5" height="10"/><rect x="485" y="1180" width="5" height="10"/><rect x="630" y="705" width="5" height="10"/><rect x="650" y="670" width="5" height="10"/><rect x="845" y="404" width="5" height="5"/><rect x="735" y="535" width="5" height="5"/><rect x="750" y="515" width="5" height="5"/><rect x="725" y="545" width="5" height="10"/><rect x="865" y="384" width="5" height="5"/><rect x="1766" y="384" width="5" height="5"/><rect x="830" y="420" width="5" height="5"/><rect x="625" y="715" width="5" height="10"/><rect x="765" y="495" width="5" height="5"/><rect x="805" y="445" width="5" height="5"/><rect x="600" y="770" width="5" height="10"/><rect x="780" y="475" width="5" height="5"/><rect x="705" y="575" width="5" height="5"/><rect x="840" y="409" width="5" height="6"/><rect x="720" y="555" width="5" height="5"/><rect x="775" y="480" width="5" height="10"/><rect x="815" y="435" width="5" height="5"/>
</g>
<g fill="#000" shape-rendering="crispEdges">
<rect x="775" y="855" width="10" height="5"/><rect x="1236" y="855" width="10" height="5"/><rect x="810" y="840" width="15" height="5"/><rect x="1196" y="840" width="15" height="5"/><rect x="875" y="820" width="25" height="5"/><rect x="1130" y="820" width="20" height="5"/><rect x="965" y="805" width="100" height="5"/><rect x="750" y="865" width="15" height="5"/><rect x="900" y="815" width="25" height="5"/><rect x="1105" y="815" width="25" height="5"/><rect x="800" y="845" width="10" height="5"/><rect x="1211" y="845" width="15" height="5"/><rect x="860" y="825" width="15" height="5"/><rect x="1150" y="825" width="15" height="5"/><rect x="765" y="860" width="10" height="5"/><rect x="1246" y="860" width="10" height="5"/><rect x="685" y="900" width="10" height="5"/><rect x="640" y="930" width="10" height="5"/><rect x="840" y="830" width="20" height="5"/><rect x="1165" y="830" width="15" height="5"/><rect x="925" y="810" width="40" height="5"/><rect x="1065" y="810" width="40" height="5"/><rect x="785" y="850" width="15" height="5"/><rect x="1226" y="850" width="10" height="5"/><rect x="825" y="835" width="15" height="5"/><rect x="1180" y="835" width="16" height="5"/><rect x="695" y="895" width="10" height="5"/><rect x="730" y="875" width="10" height="5"/><rect x="740" y="870" width="10" height="5"/><rect x="660" y="915" width="10" height="5"/><rect x="675" y="905" width="10" height="5"/><rect x="710" y="885" width="10" height="5"/><rect x="720" y="880" width="10" height="5"/><rect x="510" y="1085" width="5" height="10"/><rect x="585" y="985" width="5" height="5"/><rect x="490" y="1130" width="5" height="20"/><rect x="550" y="1020" width="5" height="10"/><rect x="520" y="1065" width="5" height="10"/><rect x="530" y="1050" width="5" height="10"/><rect x="535" y="1040" width="5" height="10"/><rect x="635" y="935" width="5" height="5"/><rect x="625" y="945" width="5" height="5"/><rect x="630" y="940" width="5" height="5"/><rect x="655" y="920" width="5" height="5"/><rect x="580" y="990" width="5" height="5"/><rect x="515" y="1075" width="5" height="10"/><rect x="485" y="1150" width="5" height="25"/><rect x="575" y="995" width="5" height="5"/><rect x="565" y="1005" width="5" height="5"/><rect x="570" y="1000" width="5" height="5"/><rect x="545" y="1030" width="5" height="5"/><rect x="495" y="1115" width="5" height="15"/><rect x="505" y="1095" width="5" height="10"/><rect x="500" y="1105" width="5" height="10"/><rect x="650" y="925" width="5" height="5"/><rect x="480" y="1175" width="5" height="15"/><rect x="670" y="910" width="5" height="5"/><rect x="615" y="955" width="5" height="5"/><rect x="620" y="950" width="5" height="5"/><rect x="605" y="965" width="5" height="5"/><rect x="610" y="960" width="5" height="5"/><rect x="525" y="1060" width="5" height="5"/><rect x="555" y="1015" width="5" height="5"/><rect x="560" y="1010" width="5" height="5"/><rect x="540" y="1035" width="5" height="5"/><rect x="705" y="890" width="5" height="5"/><rect x="600" y="970" width="5" height="5"/><rect x="590" y="980" width="5" height="5"/><rect x="595" y="975" width="5" height="5"/>
</g>
<g fill="#000" shape-rendering="crispEdges">
<rect x="350" y="34" width="5" height="1261"/>
<rect x="350" y="34" width="1681" height="5"/>
<rect x="2031" y="39" width="5" height="1256"/>
<rect x="350" y="1290" width="1686" height="5"/>
<rect x="355" y="1185" width="20" height="5"/>
<rect x="355" y="975" width="20" height="5"/>
<rect x="355" y="770" width="20" height="5"/>
<rect x="355" y="560" width="20" height="5"/>
<rect x="355" y="350" width="20" height="5"/>
<rect x="355" y="139.5" width="20" height="5"/>
<rect x="355" y="1079.5" width="10" height="5"/>
<rect x="355" y="874.6" width="10" height="5"/>
<rect x="355" y="664.5" width="10" height="5"/>
<rect x="355" y="454.5" width="10" height="5"/>
<rect x="355" y="244.6" width="10" height="5"/>
<rect x="480.5" y="1270" width="5" height="20"/>
<rect x="740.5" y="1270" width="5" height="20"/>
<rect x="1000.5" y="1270" width="5" height="20"/>
<rect x="1255.5" y="1270" width="5" height="20"/>
<rect x="1515.5" y="1270" width="5" height="20"/>
<rect x="1776" y="1270" width="5" height="20"/>
<rect x="610.2" y="1285" width="5" height="5"/>
<rect x="870.2" y="1285" width="5" height="5"/>
<rect x="1125.5" y="1285" width="5" height="5"/>
<rect x="1385.6" y="1285" width="5" height="5"/>
<rect x="1645.5" y="1285" width="5" height="5"/>
<rect x="1905.3" y="1285" width="5" height="5"/>
</g>
<g font-size="75" text-anchor="end">
<text x="326" y="1203.5">0</text>
<text x="326" y="993.5">500</text>
<text x="326" y="788.5">1000</text>
<text x="326" y="578.5">1500</text>
<text x="326" y="368.5">2000</text>
<text x="326" y="158.0">2500</text>
</g>
<g font-size="75" text-anchor="middle">
<text x="477.8" y="1373.5">0</text>
<text x="740" y="1373.5">1000</text>
<text x="997" y="1373.5">2000</text>
<text x="1255" y="1373.5">3000</text>
<text x="1512.6" y="1373.5">4000</text>
<text x="1773" y="1373.5">5000</text>
<text x="2033" y="1373.5">6000</text>
</g>
<text transform="translate(1137,614) scale(1,1.03)" font-size="96" letter-spacing="-0.3">12A machined surface</text>
<text transform="translate(986,1004) scale(1,1.03)" font-size="96" letter-spacing="0.1">6A machined surface</text>
<text x="669" y="1189" font-size="99">non-treated</text>
<g>
<text x="1141" y="1519.7" font-size="98">Z</text>
<text transform="translate(1204.5,1477) scale(0.9,1)" font-size="68" style="font-family:'Liberation Sans',sans-serif">'</text>
<text x="1236" y="1519" font-size="92">/</text>
<text transform="translate(1286.5,1519.7) scale(1.03,1)" font-size="92">Ω</text>
</g>
<g transform="translate(120,759.5) rotate(-90)">
<text x="-4" y="-0.5" font-size="98">-</text>
<text transform="translate(19,0) scale(1.12,1)" font-size="98">Z</text>
<text transform="translate(87.8,-30) scale(0.58,1)" font-size="96" style="font-family:'Liberation Sans',sans-serif">"</text>
<text x="135" y="0" font-size="92">/</text>
<text transform="translate(180.5,0) scale(1.03,1)" font-size="92">Ω</text>
</g>
</svg></body></html>
